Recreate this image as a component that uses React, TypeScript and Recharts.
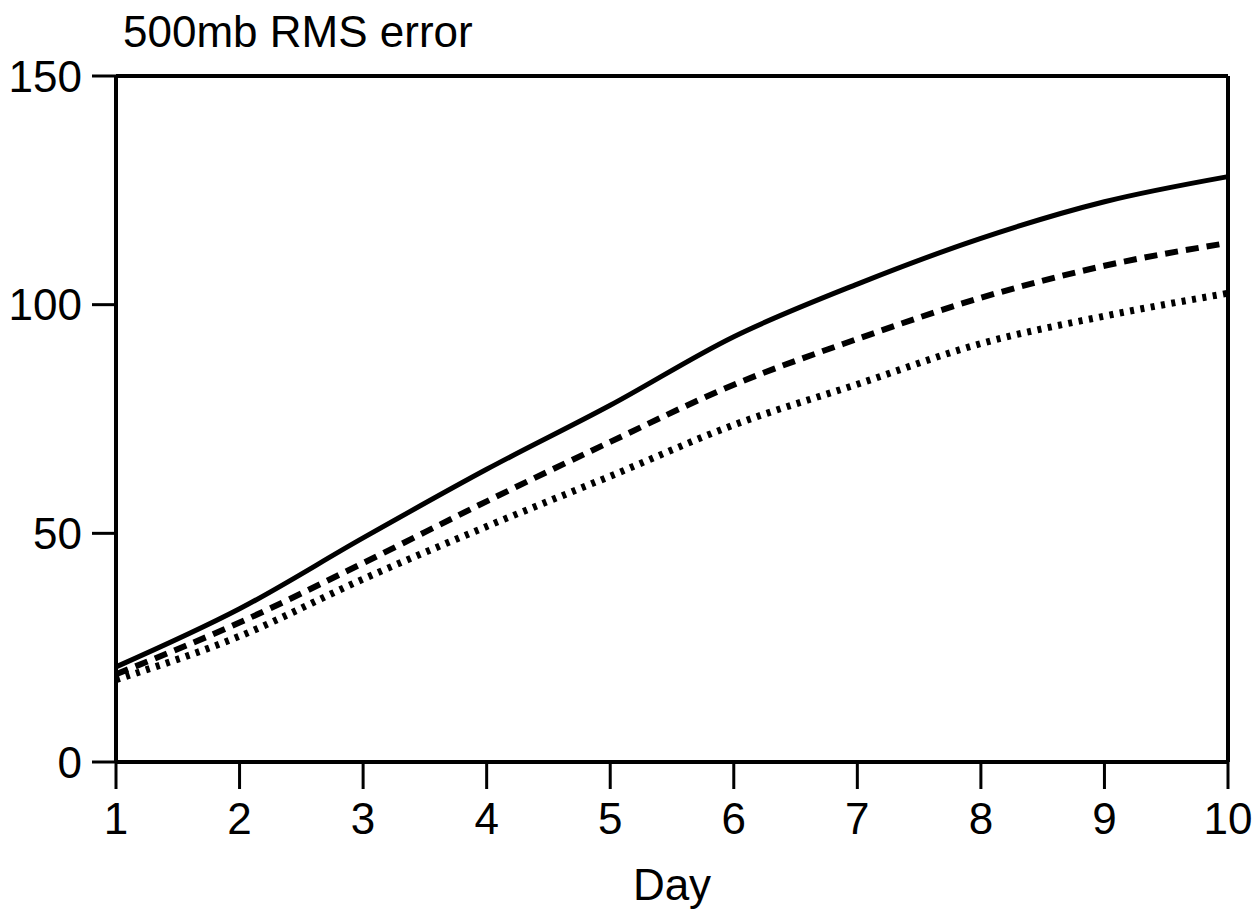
import { LineChart, Line, XAxis, YAxis, ReferenceLine } from 'recharts'

const days = [1, 2, 3, 4, 5, 6, 7, 8, 9, 10]
const solidErr = [20.8, 33.5, 49, 64, 78, 93, 104.5, 114.5, 122.5, 128]
const dashedErr = [19.2, 30.5, 43.5, 57, 70, 82.5, 92.5, 101.5, 108.5, 113.5]
const dottedErr = [18, 27.5, 40, 51.5, 62.5, 73.7, 82.6, 91.5, 97.5, 102.5]
const yTicks = [0, 50, 100, 150]

const data = days.map((day, i) => ({
  day,
  solid: solidErr[i],
  dashed: dashedErr[i],
  dotted: dottedErr[i]
}))

const font = { fontFamily: '"Liberation Sans", Arial, sans-serif', fontSize: 44, fill: '#000' }

export default function App() {
  return (
    <div style={{ position: 'absolute', left: 0, top: 0, width: 1260, height: 913, background: '#fff' }}>
      <div
        style={{
          position: 'absolute',
          left: 123,
          top: 10,
          fontFamily: font.fontFamily,
          fontSize: 44,
          lineHeight: '44px',
          color: '#000',
          whiteSpace: 'nowrap'
        }}
      >
        500mb RMS error
      </div>
      <LineChart width={1260} height={913} data={data} margin={{ top: 76, right: 32, left: 0, bottom: 0 }}>
        <XAxis
          dataKey="day"
          type="number"
          domain={[1, 10]}
          ticks={days}
          height={151}
          tickSize={27}
          tickMargin={14}
          stroke="#000"
          strokeWidth={4}
          tickLine={{ stroke: '#000', strokeWidth: 3 }}
          tick={font}
          label={{ value: 'Day', position: 'insideBottom', offset: 13, ...font }}
        />
        <YAxis
          type="number"
          domain={[0, 150]}
          ticks={yTicks}
          width={116}
          tickSize={24}
          tickMargin={10}
          stroke="#000"
          strokeWidth={4}
          tickLine={{ stroke: '#000', strokeWidth: 3 }}
          tick={font}
        />
        <ReferenceLine y={150} stroke="#000" strokeWidth={4} />
        <ReferenceLine x={10} stroke="#000" strokeWidth={4} />
        <Line type="monotone" dataKey="solid" stroke="#000" strokeWidth={5} dot={false} isAnimationActive={false} />
        <Line
          type="monotone"
          dataKey="dashed"
          stroke="#000"
          strokeWidth={6}
          strokeDasharray="13 8"
          dot={false}
          isAnimationActive={false}
        />
        <Line
          type="monotone"
          dataKey="dotted"
          stroke="#000"
          strokeWidth={7}
          strokeDasharray="4 6.5"
          dot={false}
          isAnimationActive={false}
        />
      </LineChart>
    </div>
  )
}
